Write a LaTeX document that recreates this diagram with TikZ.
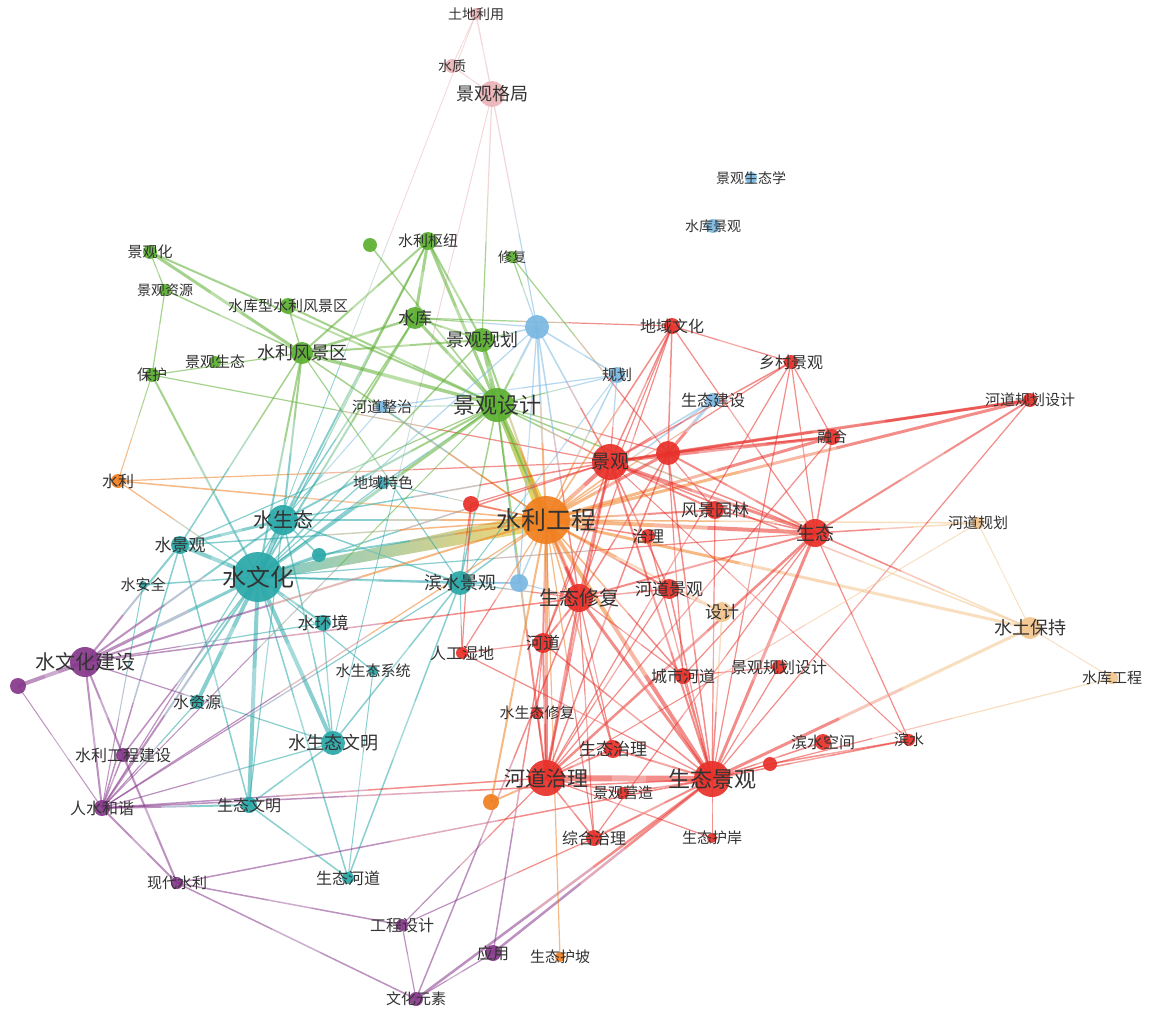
\documentclass[tikz,border=0pt]{standalone}
\usepackage{fontspec}
\setmainfont{Noto Sans CJK SC}
\usetikzlibrary{calc}
\pgfdeclarelayer{bg}\pgfdeclarelayer{fg}\pgfsetlayers{bg,main,fg}
\definecolor{cpk}{HTML}{EBB4B8}
\definecolor{cbl}{HTML}{7AB8E2}
\definecolor{cgr}{HTML}{5CB031}
\definecolor{cor}{HTML}{F07F1F}
\definecolor{clo}{HTML}{F3C58E}
\definecolor{crd}{HTML}{E8302A}
\definecolor{ctl}{HTML}{2AA8A8}
\definecolor{cpu}{HTML}{86388B}
\definecolor{ctb}{HTML}{3BA7B8}
\definecolor{wmid}{HTML}{DCE2B0}
\definecolor{wmid2}{HTML}{D8E27A}
\tikzset{dot/.style={circle,inner sep=0pt,draw=none,fill opacity=.92},
  lab/.style={inner sep=0pt,text=black!80},
  edge/.style={draw opacity=.55,line cap=butt},
  wedge/.style={draw=none}}
\newcommand\kw[7]{\colorlet{C#1}{#5}%
  \node[dot,fill=#5,minimum size=#4*2pt] (#1) at (#2,#3) {};%
  \begin{pgfonlayer}{fg}\node[lab,font=\fontsize{#6}{#6}\selectfont] (#1-t) at (#2,#3) {#7};\end{pgfonlayer}}
\newcommand\dt[5]{\colorlet{C#1}{#5}%
  \node[dot,fill=#5,minimum size=#4*2pt] (#1) at (#2,#3) {};}
\newcommand\E[3][1.2]{%
  \draw[edge,line width=#1pt,C#2] (#2.center) -- ($(#2)!.4!(#3)$);
  \draw[edge,line width=#1pt,C#2!50!C#3!75!white] ($(#2)!.4!(#3)$) -- ($(#2)!.6!(#3)$);
  \draw[edge,line width=#1pt,C#3] ($(#2)!.6!(#3)$) -- (#3.center);}
\begin{document}
\begin{tikzpicture}[x=1pt,y=-1pt]
\useasboundingbox (0,0) rectangle (1149,1011);
% pink
\kw{tdly}{476}{14}{6}{cpk}{14}{土地利用}
\kw{szh}{452}{66}{7}{cpk}{14}{水质}
\kw{jggj}{492}{94}{13}{cpk}{18}{景观格局}
% blue
\kw{jgstx}{751}{178}{6}{cbl}{14}{景观生态学}
\kw{skjg}{713}{226}{7}{cbl}{14}{水库景观}
\dt{ba}{537}{327}{12}{cbl}
\kw{gh}{617}{375}{8}{cbl}{15}{规划}
\kw{stjs}{713}{400}{7}{cbl}{16}{生态建设}
\kw{hdzz}{382}{407}{6}{cbl}{15}{河道整治}
\dt{bb}{519}{583}{9}{cbl}
\kw{dyts}{383}{483}{6}{ctb}{15}{地域特色}
% green
\kw{jgh}{150}{252}{7}{cgr}{15}{景观化}
\kw{jgzy}{165}{290}{6}{cgr}{14}{景观资源}
\kw{skx}{288}{306}{8}{cgr}{15}{水库型水利风景区}
\kw{bh}{152}{375}{7}{cgr}{15}{保护}
\kw{jgst}{215}{362}{6}{cgr}{15}{景观生态}
\kw{slfjq}{302}{353}{11}{cgr}{18}{水利风景区}
\dt{ga}{370}{245}{7}{cgr}
\kw{slsn}{428}{241}{9}{cgr}{15}{水利枢纽}
\kw{xf}{512}{257}{6}{cgr}{14}{修复}
\kw{sk}{415}{318}{11}{cgr}{17}{水库}
\kw{jggh}{482}{340}{12}{cgr}{18}{景观规划}
\kw{jgsj}{497}{405}{17}{cgr}{22}{景观设计}
% orange
\kw{sl}{118}{481}{7}{cor}{16}{水利}
\kw{slgc}{546}{520}{24}{cor}{25}{水利工程}
\kw{sj}{722}{612}{10}{clo}{17}{设计}
\kw{stbc}{1030}{628}{11}{clo}{18}{水土保持}
\kw{hdgh}{978}{523}{6}{clo}{15}{河道规划}
\kw{skgc}{1112}{678}{6}{clo}{15}{水库工程}
\kw{sthp}{560}{957}{5}{cor}{15}{生态护坡}
\dt{oa}{491}{802}{8}{cor}
% red
\kw{dywh}{672}{326}{8}{crd}{16}{地域文化}
\kw{xcjg}{791}{362}{7}{crd}{16}{乡村景观}
\kw{hdghsj}{1030}{400}{7}{crd}{15}{河道规划设计}
\kw{rh}{832}{437}{8}{crd}{15}{融合}
\kw{jg}{610}{462}{18}{crd}{19}{景观}
\dt{ra}{668}{453}{12}{crd}
\kw{fjyl}{715}{510}{9}{crd}{17}{风景园林}
\kw{st}{815}{533}{14}{crd}{19}{生态}
\kw{zl}{648}{536}{7}{crd}{16}{治理}
\dt{rb}{471}{504}{8}{crd}
\kw{stxf}{579}{598}{14}{crd}{20}{生态修复}
\kw{hdjg}{669}{589}{10}{crd}{17}{河道景观}
\kw{hd}{543}{643}{10}{crd}{17}{河道}
\kw{rgsd}{462}{653}{6}{crd}{16}{人工湿地}
\kw{cshd}{683}{676}{8}{crd}{16}{城市河道}
\kw{jgghsj}{779}{667}{7}{crd}{16}{景观规划设计}
\kw{sstxf}{537}{713}{6}{crd}{15}{水生态修复}
\kw{stzl}{613}{749}{9}{crd}{17}{生态治理}
\kw{hdzl}{546}{778}{18}{crd}{21}{河道治理}
\kw{stjg}{712}{779}{18}{crd}{22}{生态景观}
\kw{jgyz}{623}{793}{6}{crd}{15}{景观营造}
\kw{zhzl}{594}{838}{8}{crd}{16}{综合治理}
\kw{stha}{712}{838}{5}{crd}{15}{生态护岸}
\kw{bskj}{823}{742}{8}{crd}{16}{滨水空间}
\kw{bs}{909}{740}{6}{crd}{15}{滨水}
\dt{rc}{770}{764}{7}{crd}
% teal
\kw{sst}{283}{520}{15}{ctl}{20}{水生态}
\kw{sjg}{180}{545}{9}{ctl}{17}{水景观}
\kw{swh}{258}{577}{25}{ctl}{24}{水文化}
\dt{ta}{319}{555}{7}{ctl}
\kw{saq}{143}{585}{4}{ctl}{15}{水安全}
\kw{shj}{323}{623}{8}{ctl}{17}{水环境}
\kw{bsjg}{460}{583}{12}{ctl}{18}{滨水景观}
\kw{sstxt}{373}{671}{5}{ctl}{15}{水生态系统}
\kw{szy}{197}{702}{7}{ctl}{16}{水资源}
\kw{sstwm}{333}{743}{12}{ctl}{18}{水生态文明}
\kw{stwm}{249}{805}{8}{ctl}{16}{生态文明}
\kw{sthd}{348}{878}{6}{ctl}{16}{生态河道}
% purple
\kw{swhjs}{85}{662}{15}{cpu}{20}{水文化建设}
\dt{pa}{18}{686}{8}{cpu}
\kw{slgcjs}{123}{755}{7}{cpu}{16}{水利工程建设}
\kw{sshx}{102}{808}{8}{cpu}{16}{人水和谐}
\kw{xdsl}{177}{883}{6}{cpu}{15}{现代水利}
\kw{gcsj}{402}{925}{6}{cpu}{16}{工程设计}
\kw{yy}{493}{953}{8}{cpu}{16}{应用}
\kw{whys}{416}{999}{7}{cpu}{15}{文化元素}
\begin{pgfonlayer}{bg}
\fill[white] (0,0) rectangle (1149,1011);
% tapered strong links
\shade[wedge,left color=ctl!60!white,middle color=wmid,right color=cor!55!yellow!60!white]
  ($(swh)!4pt!90:(slgc)$) -- ($(swh)!4pt!-90:(slgc)$) -- ($(slgc)!9pt!90:(swh)$) -- ($(slgc)!9pt!-90:(swh)$) -- cycle;
\shade[wedge,top color=cgr!60!white,middle color=wmid2,bottom color=cor!50!yellow!70!white]
  ($(jgsj)!2.5pt!90:(slgc)$) -- ($(jgsj)!2.5pt!-90:(slgc)$) -- ($(slgc)!6pt!90:(jgsj)$) -- ($(slgc)!6pt!-90:(jgsj)$) -- cycle;
% top
\E{tdly}{jggj}\E[.8]{tdly}{szh}\E[.8]{tdly}{swh}\E{szh}{jggj}
\E{jggj}{jggh}\E{jggj}{ba}\E[.9]{jggj}{sstwm}
% green
\E[3]{jgh}{slfjq}\E[2]{jgh}{jgsj}\E{jgh}{jgzy}\E{jgzy}{bh}\E[1.5]{jgzy}{slfjq}
\E[1.5]{skx}{slfjq}\E[2]{skx}{jgsj}\E{bh}{slfjq}\E{bh}{jg}\E[1]{bh}{sl}\E[2]{bh}{swh}
\E{sl}{swh}\E[1.5]{sl}{slgc}\E{sl}{jg}\E[1.5]{ga}{jgsj}
\E[3]{slsn}{sk}\E[3]{slsn}{jgsj}\E[2]{slsn}{jggh}\E[2]{slsn}{slfjq}\E[2]{slsn}{sst}
\E{xf}{ba}\E{xf}{ra}
\E[2]{sk}{jggh}\E[3]{sk}{jgsj}\E[2.5]{sk}{slfjq}\E[2]{sk}{swh}\E[1.5]{sk}{sst}\E{sk}{ba}\E{sk}{dywh}
\E[4]{jggh}{jgsj}\E[1.5]{jggh}{ba}\E[2]{jggh}{slfjq}\E[1.5]{jggh}{swh}\E[2]{jggh}{slgc}
\E[3.5]{slfjq}{jgsj}\E[2]{slfjq}{sst}\E[2]{slfjq}{swh}\E[1.5]{slfjq}{sjg}\E{slfjq}{bsjg}\E[1.5]{slfjq}{slgc}
\E[3]{jgsj}{swh}\E[2]{jgsj}{sst}\E[1.5]{jgsj}{jg}\E[1.5]{jgsj}{st}\E[2]{jgsj}{stxf}
\E[2]{jgsj}{hdzl}\E[1.5]{jgsj}{bsjg}\E{jgsj}{hdzz}\E{jgsj}{ra}\E{jgsj}{sjg}
% blue
\E[2]{ba}{slgc}\E[2]{ba}{jgsj}\E[1.5]{ba}{gh}\E[1.5]{ba}{stxf}\E[1.5]{ba}{jg}\E{ba}{bb}\E{ba}{swh}
\E{gh}{hdzz}\E{gh}{jgsj}\E[1.5]{gh}{slgc}\E[1]{gh}{bsjg}
\E[3]{stjs}{ra}\E[1.5]{stjs}{jg}\E[1.5]{stjs}{slgc}
\E[1.5]{bb}{slgc}\E{bb}{stxf}\E{bb}{bsjg}\E{bb}{swh}\E{bb}{jgsj}
\E{hdzz}{slgc}\E[1]{hdzz}{sst}\E{dyts}{swh}\E{dyts}{jgsj}\E[1]{dyts}{slgc}
% teal
\E[5]{swh}{sst}\E[4]{swh}{sjg}\E[2]{swh}{shj}\E[4]{swh}{szy}\E[4]{swh}{sstwm}\E[4]{swh}{stwm}
\E[3]{swh}{swhjs}\E[2]{swh}{sshx}\E[2]{swh}{ta}\E[2]{swh}{bsjg}\E[1.5]{swh}{sthd}
\E[1.5]{swh}{saq}\E[1.5]{swh}{slgcjs}\E[1.5]{swh}{jg}\E{swh}{st}\E{swh}{slsn}
\E[2.5]{sst}{slgc}\E[3]{sst}{sjg}\E[2]{sst}{swhjs}\E[1.5]{sst}{sstwm}\E{sst}{stwm}\E[1.5]{sst}{ta}
\E[1.5]{sst}{bsjg}\E[1.5]{sst}{jg}\E{sst}{sshx}
\E[2]{sjg}{swhjs}\E[1.5]{sjg}{sshx}\E[1.5]{sjg}{stwm}\E[1.5]{sjg}{slgc}
\E{shj}{swhjs}\E{shj}{sstwm}\E[2]{ta}{slgc}
\E[1.5]{bsjg}{sthd}\E[1.5]{bsjg}{sstwm}\E[1]{bsjg}{rgsd}\E[1.5]{bsjg}{slgc}\E{bsjg}{stxf}\E{bsjg}{rb}\E{bsjg}{sshx}
\E[1.5]{sstwm}{stwm}\E{sstwm}{sshx}\E{sstwm}{swhjs}\E[2]{stwm}{sshx}\E[1.5]{stwm}{sthd}
\E{szy}{sshx}\E{sstxt}{swh}\E[1]{sstxt}{sthd}\E[1]{saq}{sshx}
% purple
\E[4]{swhjs}{pa}\E[2]{swhjs}{slgcjs}\E[2]{swhjs}{sshx}\E[2]{slgcjs}{xdsl}\E[2]{swhjs}{slgc}\E[1.5]{swhjs}{stxf}
\E[1]{pa}{sshx}\E[2]{sshx}{xdsl}\E[1.5]{sshx}{slgcjs}\E[1.5]{sshx}{stjg}\E[1.5]{sshx}{hdzl}\E{sshx}{slgc}\E[1]{sshx}{jgsj}
\E[1.5]{xdsl}{gcsj}\E[1.5]{xdsl}{whys}\E[1.5]{xdsl}{stjg}
\E{gcsj}{whys}\E{gcsj}{zhzl}\E{gcsj}{hdzl}
\E[2.5]{yy}{stjg}\E[1.5]{yy}{hd}\E{yy}{whys}\E[2.5]{whys}{stjg}\E[1.5]{whys}{stxf}
% red / orange
\E[4]{slgc}{jg}\E[3]{slgc}{ra}\E[4]{slgc}{st}\E[2]{slgc}{fjyl}\E[1.5]{slgc}{zl}\E[4]{slgc}{stxf}
\E[2]{slgc}{hdjg}\E[2]{slgc}{sj}\E[2]{slgc}{hd}\E[3]{slgc}{hdzl}\E[4]{slgc}{stjg}\E[3]{slgc}{stbc}
\E[1.5]{slgc}{hdgh}\E[3]{slgc}{rh}\E[3]{slgc}{hdghsj}\E[1.5]{slgc}{dywh}\E{slgc}{xcjg}\E[1.5]{slgc}{cshd}
\E[1.5]{slgc}{stzl}\E{slgc}{rgsd}\E{slgc}{zhzl}\E{slgc}{sthp}\E[2]{slgc}{oa}\E[1.5]{slgc}{rb}
\E[2]{jg}{ra}\E[1.5]{jg}{dywh}\E[1.5]{jg}{xcjg}\E[3]{jg}{rh}\E[3]{jg}{st}\E[2]{jg}{fjyl}\E[2]{jg}{stxf}
\E[1.5]{jg}{hdjg}\E[2]{jg}{stjg}\E[2]{jg}{hdzl}\E[2.5]{jg}{hdghsj}\E{jg}{gh}\E[1.5]{jg}{hd}
\E[3]{ra}{hdghsj}\E[2]{ra}{rh}\E[2]{ra}{st}\E[1.5]{ra}{stjg}\E[1.5]{ra}{hdzl}\E[1.5]{ra}{dywh}
\E[1.5]{ra}{stxf}\E{ra}{cshd}\E{ra}{fjyl}
\E{dywh}{xcjg}\E{dywh}{st}\E{dywh}{hd}\E{dywh}{stxf}
\E{xcjg}{rh}\E{xcjg}{st}\E{xcjg}{stjg}\E{xcjg}{hdzl}\E[1.5]{rh}{st}\E{rh}{hdzl}
\E[2]{hdghsj}{st}\E{hdghsj}{stjg}
\E[1.5]{st}{hdgh}\E[1.5]{st}{stbc}\E[3]{st}{stjg}\E[2.5]{st}{hdzl}\E[2]{st}{stxf}\E{st}{cshd}
\E{st}{bs}\E{st}{zhzl}\E[1.5]{st}{fjyl}
\E[1]{hdgh}{stbc}\E[1]{hdgh}{hdzl}\E[3]{stbc}{stjg}\E[1]{stbc}{skgc}\E[1.5]{stbc}{jg}\E{skgc}{stjg}
\E[1.5]{bs}{stjg}\E[1.5]{bs}{rc}\E[1]{bs}{jg}\E[1.5]{bskj}{stjg}\E{rc}{stjg}
\E[2]{stxf}{hd}\E[2.5]{stxf}{hdzl}\E[3]{stxf}{stjg}\E[1.5]{stxf}{hdjg}\E{stxf}{zhzl}\E{stxf}{cshd}\E{stxf}{stzl}
\E[2]{hd}{hdzl}\E[1.5]{hd}{stjg}\E{hd}{rgsd}\E{hd}{sstxf}
\E[6]{hdzl}{stjg}\E[2]{hdzl}{stzl}\E[1.5]{hdzl}{jgyz}\E[1.5]{hdzl}{zhzl}\E{hdzl}{stha}\E[2]{hdzl}{oa}\E{hdzl}{sstxf}
\E[1.5]{stjg}{jgyz}\E[2]{stjg}{stzl}\E[2]{stjg}{zhzl}\E[1.5]{stjg}{cshd}\E{stjg}{jgghsj}\E[1.5]{stjg}{hdjg}
\E[1]{stjg}{stha}\E[1.5]{stjg}{sj}
\E{fjyl}{stjg}\E{zl}{stjg}\E{hdjg}{hdzl}\E{cshd}{jgghsj}\E{sj}{hdjg}
\E{rb}{rgsd}\E{rb}{jg}\E{rgsd}{stjg}
\end{pgfonlayer}
\end{tikzpicture}
\end{document}
